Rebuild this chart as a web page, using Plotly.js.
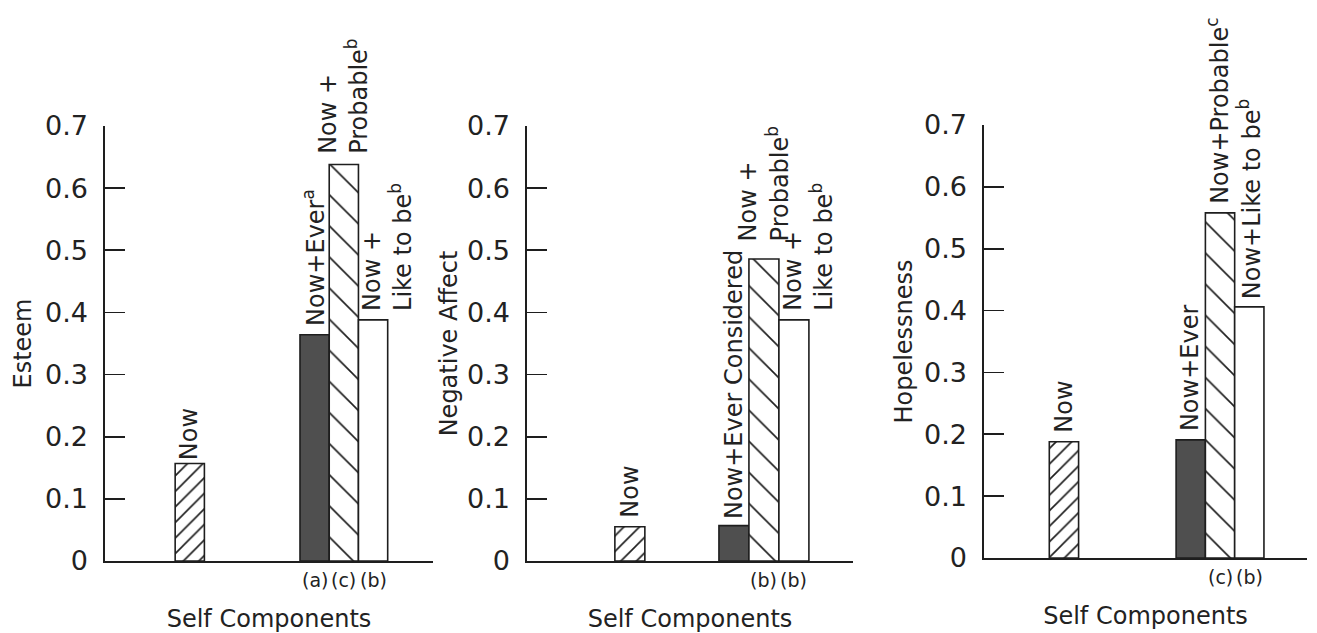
<!DOCTYPE html>
<html>
<head>
<meta charset="utf-8">
<script src="https://cdn.plot.ly/plotly-3.0.1.min.js"></script>
<style>
  html, body { margin: 0; padding: 0; background: #ffffff; }
  #chart { width: 1317px; height: 633px; }
</style>
</head>
<body>
<div id="chart"></div>
<script>
// ---------- data ----------
const categories = ["Now", "Now+Ever", "Now+Probable", "Now+Like to be"];

const esteemValues      = [0.157, 0.364, 0.638, 0.388];
const negAffectValues   = [0.055, 0.057, 0.486, 0.388];
const hopelessValues    = [0.188, 0.191, 0.558, 0.406];

const esteemLabels    = ["Now", "Now+Ever<sup>a</sup>", "Now +<br>Probable<sup>b</sup>", "Now +<br>Like to be<sup>b</sup>"];
const negAffectLabels = ["Now", "Now+Ever Considered", "Now +<br>Probable<sup>b</sup>", "Now +<br>Like to be<sup>b</sup>"];
const hopelessLabels  = ["Now", "Now+Ever", "Now+Probable<sup>c</sup>", "Now+Like to be<sup>b</sup>"];

const esteemSig    = ["", "(a)", "(c)", "(b)"];
const negAffectSig = ["", "", "(b)", "(b)"];
const hopelessSig  = ["", "", "(c)", "(b)"];

const yTitles = ["Esteem", "Negative Affect", "Hopelessness"];
const xTitle = "Self Components";
const yTickVals = [0, 0.1, 0.2, 0.3, 0.4, 0.5, 0.6, 0.7];
const yTickText = ["0", "0.1", "0.2", "0.3", "0.4", "0.5", "0.6", "0.7"];

// ---------- layout settings (positions / styles) ----------
const panels = [
  { values: esteemValues,    labels: esteemLabels,    sig: esteemSig,    nowSlot: -4.27, xr: [-7.17, 4.05], xd: [105/1317, 433/1317], yd: [72/633, 507/633], ts: 6,
    gap: [1, 7, 9, 7], dx: [0, 0, -1, 15] },
  { values: negAffectValues, labels: negAffectLabels, sig: negAffectSig, nowSlot: -3.47, xr: [-6.90, 3.97], xd: [527/1317, 853/1317], yd: [72/633, 507/633], ts: 2,
    gap: [7, 5, 16, 7], dx: [0, 0, 0, 15] },
  { values: hopelessValues,  labels: hopelessLabels,  sig: hopelessSig,  nowSlot: -4.33, xr: [-7.06, 3.97], xd: [984/1317, 1307/1317], yd: [75/633, 508/633], ts: 4,
    gap: [7, 7, 7, 6], dx: [0, 0, -2, 0] }
];

const INK = "#1e1e1e";
const TXT = "#222222";
const LABEL_FONT = "'DejaVu Sans', sans-serif";
const AXIS_FONT = "'DejaVu Sans', sans-serif";

// one style per bar kind (Now, Now+Ever, Now+Probable, Now+Like to be)
const barStyles = [
  { color: "#ffffff", pattern: { shape: "/",  size: 11, solidity: 0.15, fgcolor: INK, bgcolor: "#ffffff", fillmode: "replace" } },
  { color: "#4f4f4f", pattern: { shape: "" } },
  { color: "#ffffff", pattern: { shape: "\\", size: 22, solidity: 0.075, fgcolor: INK, bgcolor: "#ffffff", fillmode: "replace" } },
  { color: "#ffffff", pattern: { shape: "" } }
];

const traces = [];
const annotations = [];
const layout = {
  width: 1317, height: 633,
  margin: { l: 0, r: 0, t: 0, b: 0 },
  paper_bgcolor: "#ffffff",
  plot_bgcolor: "rgba(0,0,0,0)",
  showlegend: false,
  bargap: 0,
  barmode: "overlay",
  font: { family: AXIS_FONT, color: TXT }
};

panels.forEach((p, i) => {
  const n = i === 0 ? "" : String(i + 1);
  const xa = "x" + n, ya = "y" + n;
  const xPos = categories.map((c, k) => k === 0 ? p.nowSlot : k - 1);

  categories.forEach((c, k) => {
    traces.push({
      type: "bar",
      name: c,
      x: [xPos[k]],
      y: [p.values[k]],
      width: 1,
      xaxis: xa, yaxis: ya,
      cliponaxis: false,
      marker: {
        color: barStyles[k].color,
        line: { color: INK, width: 1.6 },
        pattern: barStyles[k].pattern
      }
    });

    annotations.push({
      xref: xa, yref: ya, x: xPos[k], y: p.values[k],
      text: p.labels[k], showarrow: false, textangle: -90,
      xanchor: "center", yanchor: "bottom", align: "left",
      yshift: p.gap[k], xshift: p.dx[k],
      font: { family: LABEL_FONT, size: 24, color: TXT }
    });
    if (p.sig[k]) {
      annotations.push({
        xref: xa, yref: ya, x: xPos[k], y: 0,
        text: p.sig[k], showarrow: false,
        xanchor: "center", yanchor: "top", yshift: -6,
        font: { family: AXIS_FONT, size: 19, color: TXT }
      });
    }
  });

  layout["xaxis" + n] = {
    domain: p.xd, anchor: ya, range: p.xr,
    showline: true, linecolor: INK, linewidth: 1.6,
    showgrid: false, zeroline: false, ticks: "", showticklabels: false, fixedrange: true,
    title: { text: xTitle, font: { family: AXIS_FONT, size: 24, color: TXT }, standoff: 48 }
  };
  layout["yaxis" + n] = {
    domain: p.yd, anchor: xa, range: [0, 0.7],
    showline: true, linecolor: INK, linewidth: 1.6,
    showgrid: false, zeroline: false,
    tickmode: "array", tickvals: yTickVals, ticktext: yTickText,
    ticks: "inside", ticklen: 20, tickwidth: 1.6, tickcolor: INK,
    ticklabelstandoff: 10,
    tickfont: { family: AXIS_FONT, size: 27, color: TXT },
    fixedrange: true,
    title: { text: yTitles[i], font: { family: AXIS_FONT, size: 24, color: TXT }, standoff: p.ts }
  };
});

layout.annotations = annotations;

Plotly.newPlot("chart", traces, layout, { staticPlot: true, displayModeBar: false });
</script>
</body>
</html>
